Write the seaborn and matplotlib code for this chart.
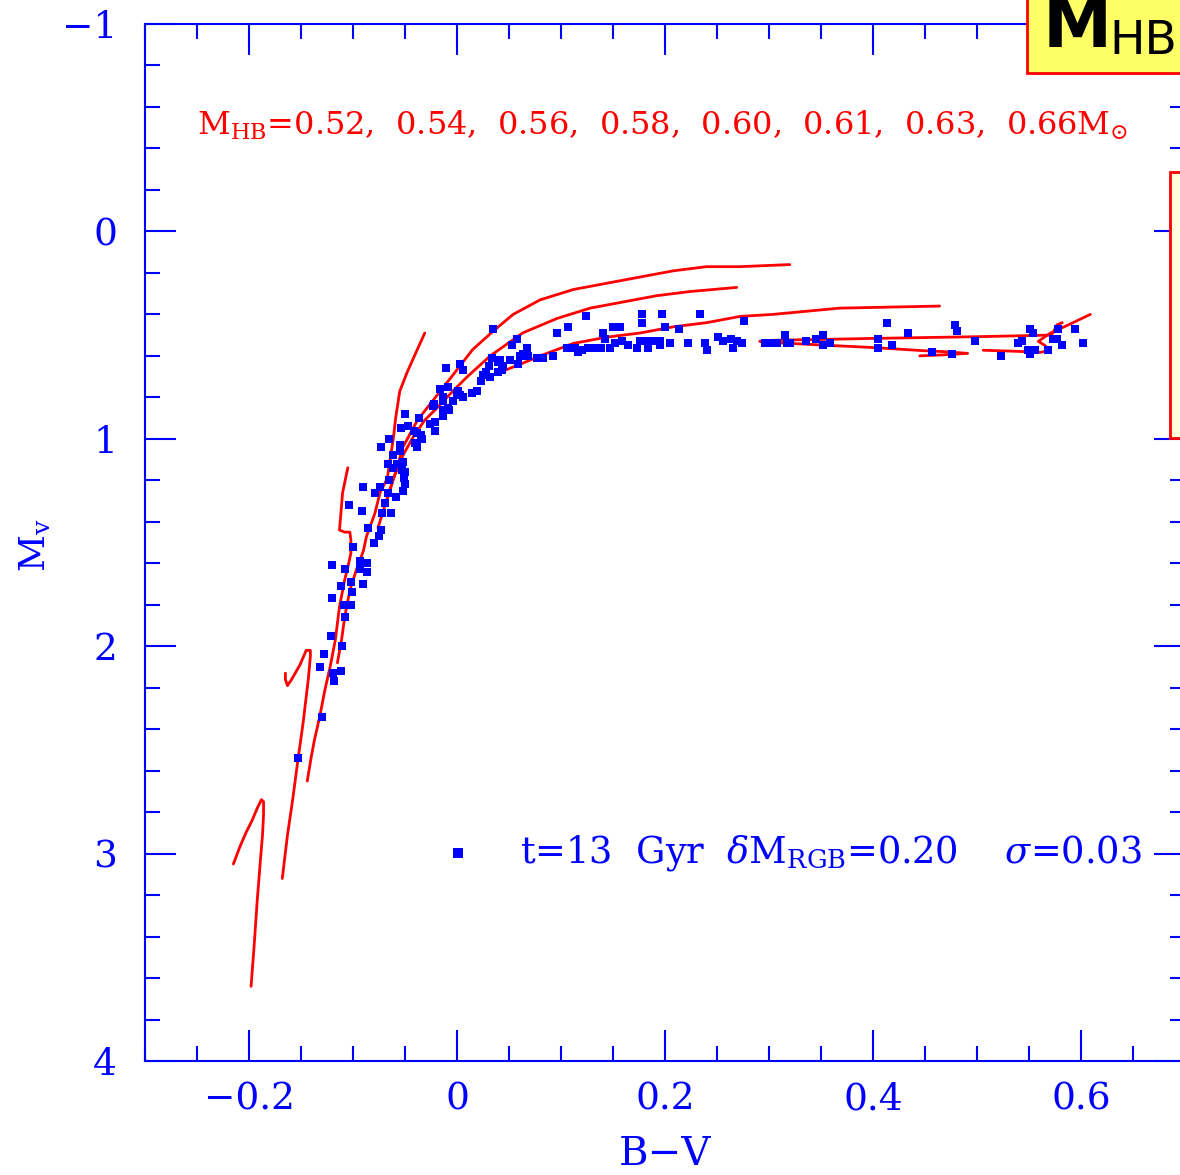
import numpy as np
import pandas as pd
import matplotlib
matplotlib.use("Agg")
import matplotlib.pyplot as plt
import seaborn as sns
from matplotlib.patches import Rectangle
from matplotlib.ticker import MultipleLocator, FixedLocator, FuncFormatter

# ---------------- data ----------------
bv_stars = [-0.153, -0.130, -0.132, -0.128, -0.121, -0.119, -0.118, -0.112, -0.111, -0.108,
            -0.109, -0.102, -0.120, -0.112, -0.101, -0.102, -0.090, -0.108, -0.120, -0.093,
            -0.093, -0.087, -0.087, -0.100, -0.080, -0.075, -0.073, -0.086, -0.063, -0.072,
            -0.069, -0.091, -0.104, -0.059, -0.066, -0.079, -0.074, -0.052, -0.090, -0.065,
            -0.050, -0.051, -0.050, -0.053, -0.062, -0.058, -0.066, -0.052, -0.062, -0.055,
            -0.073, -0.065, -0.055, -0.038, -0.040, -0.034, -0.038, -0.041, -0.047, -0.054,
            -0.037, -0.050, -0.026, -0.021, -0.021, -0.013, -0.023, -0.013, -0.008, -0.013,
            -0.013, -0.009, -0.016, -0.004, 0.001, 0.003, 0.006, 0.014, 0.019, 0.003,
            0.006, -0.011, 0.023, 0.025, 0.028, 0.031, -0.022, -0.009, -0.035, 0.000,
            0.032, 0.035, 0.039,
            0.058, 0.053, 0.067, 0.034, 0.041, 0.044, 0.051, 0.061, 0.063, 0.068,
            0.059, 0.039, 0.043, 0.077, 0.083, 0.092, 0.096, 0.107, 0.124, 0.106,
            0.113, 0.116, 0.120, 0.126, 0.133, 0.138, 0.140, 0.142, 0.147, 0.152,
            0.150, 0.157, 0.159, 0.164, 0.173, 0.176, 0.178, 0.178, 0.181, 0.184,
            0.188, 0.195, 0.195, 0.197, 0.200, 0.205, 0.213, 0.222, 0.234, 0.238,
            0.240, 0.251, 0.256, 0.263, 0.265, 0.269, 0.274, 0.276, 0.296, 0.301,
            0.308, 0.315, 0.317,
            0.320, 0.336, 0.345, 0.352, 0.352, 0.359, 0.413, 0.405, 0.405, 0.418,
            0.434, 0.457, 0.476, 0.479, 0.481, 0.498, 0.523, 0.539, 0.543, 0.551,
            0.554, 0.549, 0.551, 0.556, 0.568, 0.573, 0.577, 0.578, 0.582, 0.594,
            0.602]
mv_stars = [2.54, 2.34, 2.10, 2.04, 1.95, 2.13, 2.17, 2.12, 2.00, 1.86,
            1.80, 1.80, 1.77, 1.71, 1.74, 1.69, 1.70, 1.63, 1.61, 1.63,
            1.59, 1.60, 1.64, 1.52, 1.50, 1.47, 1.44, 1.43, 1.36, 1.36,
            1.31, 1.35, 1.32, 1.28, 1.26, 1.26, 1.23, 1.25, 1.23, 1.20,
            1.22, 1.19, 1.16, 1.15, 1.14, 1.12, 1.12, 1.11, 1.08, 1.06,
            1.04, 1.00, 1.03, 1.04, 1.02, 1.00, 0.97, 0.96, 0.94, 0.95,
            0.90, 0.88, 0.93, 0.96, 0.92, 0.89, 0.84, 0.86, 0.86, 0.82,
            0.80, 0.75, 0.76, 0.82, 0.77, 0.79, 0.80, 0.78, 0.77, 0.64,
            0.67, 0.66, 0.72, 0.69, 0.68, 0.65, 0.83, 0.85, 0.98, 0.78,
            0.70, 0.47, 0.63,
            0.52, 0.55, 0.56, 0.61, 0.62, 0.65, 0.62, 0.60, 0.59, 0.60,
            0.64, 0.68, 0.67, 0.61, 0.61, 0.60, 0.49, 0.46, 0.41, 0.56,
            0.56, 0.58, 0.57, 0.56, 0.56, 0.56, 0.49, 0.52, 0.56, 0.54,
            0.46, 0.46, 0.53, 0.55, 0.56, 0.53, 0.44, 0.40, 0.53, 0.56,
            0.53, 0.53, 0.55, 0.40, 0.46, 0.54, 0.47, 0.54, 0.40, 0.54,
            0.57, 0.51, 0.53, 0.52, 0.56, 0.53, 0.54, 0.43, 0.54, 0.54,
            0.54, 0.50, 0.54,
            0.54, 0.53, 0.52, 0.50, 0.55, 0.54, 0.44, 0.52, 0.56, 0.55,
            0.49, 0.58, 0.59, 0.45, 0.48, 0.53, 0.60, 0.54, 0.53, 0.47,
            0.49, 0.57, 0.59, 0.57, 0.57, 0.52, 0.52, 0.47, 0.55, 0.47,
            0.54]

# HB evolutionary tracks (B-V, Mv)
track1_bv = [-0.198, -0.195, -0.192, -0.189, -0.187, -0.186, -0.186, -0.188, -0.192, -0.197, -0.203, -0.209, -0.215]
track1_mv = [3.64, 3.44, 3.22, 3.03, 2.91, 2.81, 2.75, 2.74, 2.78, 2.84, 2.90, 2.97, 3.05]
track2_bv = [-0.168, -0.163, -0.158, -0.153, -0.148, -0.143, -0.141, -0.141, -0.145, -0.151, -0.159, -0.163, -0.165, -0.165]
track2_mv = [3.12, 2.91, 2.74, 2.55, 2.37, 2.16, 2.05, 2.02, 2.02, 2.09, 2.16, 2.19, 2.16, 2.13]
track3_bv = [-0.144, -0.140, -0.137, -0.132, -0.127, -0.122, -0.117, -0.113, -0.108, -0.105, -0.102, -0.102, -0.103, -0.108, -0.113, -0.112, -0.110, -0.105]
track3_mv = [2.65, 2.53, 2.45, 2.34, 2.21, 2.10, 1.97, 1.81, 1.68, 1.62, 1.55, 1.49, 1.45, 1.45, 1.44, 1.38, 1.26, 1.14]
track4_bv = [-0.115, -0.111, -0.108, -0.103, -0.096, -0.090, -0.087, -0.079, -0.074, -0.067, -0.064, -0.061, -0.059, -0.055, -0.048, -0.040, -0.031]
track4_mv = [2.08, 1.97, 1.86, 1.73, 1.62, 1.54, 1.47, 1.36, 1.26, 1.19, 1.09, 0.99, 0.90, 0.77, 0.68, 0.59, 0.49]
track5_bv = [-0.069, -0.059, -0.052, -0.038, -0.016, -0.002, 0.015, 0.035, 0.054, 0.080, 0.112, 0.144, 0.176, 0.208, 0.240, 0.272, 0.320]
track5_mv = [1.32, 1.16, 1.04, 0.91, 0.77, 0.68, 0.57, 0.48, 0.40, 0.33, 0.28, 0.25, 0.22, 0.19, 0.17, 0.17, 0.16]
track6_bv = [-0.076, -0.068, -0.061, -0.052, -0.042, -0.031, -0.019, -0.004, 0.010, 0.032, 0.063, 0.096, 0.128, 0.160, 0.192, 0.224, 0.269]
track6_mv = [1.43, 1.30, 1.19, 1.08, 0.99, 0.91, 0.85, 0.77, 0.70, 0.60, 0.49, 0.42, 0.37, 0.34, 0.31, 0.29, 0.27]
track7_bv = [0.046, 0.061, 0.080, 0.112, 0.144, 0.176, 0.208, 0.240, 0.272, 0.304, 0.368, 0.464]
track7_mv = [0.67, 0.64, 0.60, 0.54, 0.51, 0.49, 0.46, 0.44, 0.41, 0.40, 0.37, 0.36]
track8_bv = [0.445, 0.469, 0.491, 0.469, 0.448, 0.400, 0.359, 0.320, 0.296, 0.291, 0.304, 0.359, 0.400, 0.448,
             0.496, 0.544, 0.570, 0.573, 0.575, 0.577, 0.582]
track8_mv = [0.60, 0.595, 0.588, 0.580, 0.575, 0.560, 0.550, 0.540, 0.535, 0.530, 0.525, 0.520, 0.516, 0.512,
             0.508, 0.503, 0.500, 0.490, 0.470, 0.450, 0.440]
track9_bv = [0.506, 0.537, 0.561, 0.570, 0.565, 0.559, 0.570, 0.589, 0.609]
track9_mv = [0.573, 0.578, 0.583, 0.573, 0.549, 0.530, 0.492, 0.448, 0.400]

hb_masses_text = r"$\mathregular{M_{HB}}$=0.52,  0.54,  0.56,  0.58,  0.60,  0.61,  0.63,  0.66$\mathregular{M_{\odot}}$"
legend_text = r"t=13  Gyr  $\delta\mathregular{M_{RGB}}$=0.20    $\sigma$=0.03"
x_ticks = [-0.2, 0.0, 0.2, 0.4, 0.6]
y_ticks = [-1, 0, 1, 2, 3, 4]

# ---------------- style ----------------
sns.set_style("ticks")
BLUE = "#0000FF"
RED = "#FF0000"
plt.rcParams["font.family"] = ["DejaVu Serif"]
plt.rcParams["mathtext.fontset"] = "dejavuserif"
plt.rcParams["axes.unicode_minus"] = True

fig = plt.figure(figsize=(11.80, 11.75), dpi=100)
L, R, T, B = 145, 1185, 24, 1061
ax = fig.add_axes([L / 1180, 1 - B / 1175, (R - L) / 1180, (B - T) / 1175])

stars = pd.DataFrame({"bv": bv_stars, "mv": mv_stars})
tracks = []
for i, (bv, mv) in enumerate([(track1_bv, track1_mv), (track2_bv, track2_mv), (track3_bv, track3_mv),
                               (track4_bv, track4_mv), (track5_bv, track5_mv), (track6_bv, track6_mv),
                               (track7_bv, track7_mv), (track8_bv, track8_mv), (track9_bv, track9_mv)]):
    tracks.append(pd.DataFrame({"bv": bv, "mv": mv, "track": i}))
tracks = pd.concat(tracks, ignore_index=True)

sns.lineplot(data=tracks, x="bv", y="mv", units="track", estimator=None, sort=False,
             color=RED, linewidth=2.0, ax=ax, legend=False)
sns.scatterplot(data=stars, x="bv", y="mv", marker="s", color=BLUE, s=26, linewidth=0,
                ax=ax, label=legend_text, zorder=3)

ax.set_xlim(-0.3, 0.7)
ax.set_ylim(4, -1)

for sp in ax.spines.values():
    sp.set_color(BLUE)
    sp.set_linewidth(1.5)

ax.xaxis.set_major_locator(FixedLocator(x_ticks))
ax.xaxis.set_minor_locator(MultipleLocator(0.05))
ax.yaxis.set_major_locator(FixedLocator(y_ticks))
ax.yaxis.set_minor_locator(MultipleLocator(0.2))
ax.xaxis.set_major_formatter(FuncFormatter(lambda v, p: "0" if abs(v) < 1e-9 else f"{v:.1f}".replace("-", "\u2212")))
ax.yaxis.set_major_formatter(FuncFormatter(lambda v, p: f"{int(round(v))}".replace("-", "\u2212")))

ax.tick_params(which="both", direction="in", top=True, right=True, colors=BLUE)
ax.tick_params(which="major", length=22, width=1.5, labelsize=27, labelcolor=BLUE)
ax.tick_params(which="minor", length=10.5, width=1.5)
ax.tick_params(axis="x", which="major", pad=15)
ax.tick_params(axis="y", which="major", pad=20)

ax.set_xlabel("B\u2212V", fontsize=29, color=BLUE)
ax.xaxis.set_label_coords(0.5, -0.072)
ax.set_ylabel(r"$\mathregular{M_v}$", fontsize=26, color=BLUE)
ax.yaxis.set_label_coords(-0.088, 0.497)

ax.text(-0.25, -0.51, hb_masses_text, color=RED, fontsize=23, va="center", ha="left")

leg = ax.legend(loc="center left", bbox_to_anchor=(0.290, 0.2006), frameon=False,
                handlelength=0.6, handletextpad=1.4, borderpad=0, borderaxespad=0,
                markerscale=1.4, prop={"size": 26.5, "family": "DejaVu Serif"})
for t in leg.get_texts():
    t.set_color(BLUE)

# slide decorations partly visible at the right edge
fig.add_artist(Rectangle((1027 / 1180, 1 - 73 / 1175), 0.2, 0.2, transform=fig.transFigure,
                         facecolor="#FFFF66", edgecolor=RED, linewidth=2, zorder=5))
fig.text(1043 / 1180, 1 - 47 / 1175, "M", fontsize=50, fontweight="bold", color="black",
         family=["DejaVu Sans"], zorder=6, va="baseline")
fig.text(1109 / 1180, 1 - 54 / 1175, "HB", fontsize=34, color="black",
         family=["DejaVu Sans"], zorder=6, va="baseline")
fig.add_artist(Rectangle((1170 / 1180, 1 - 438 / 1175), 0.2, (438 - 172) / 1175, transform=fig.transFigure,
                         facecolor="#FFFFDD", edgecolor=RED, linewidth=2, zorder=5))

fig.savefig("out.png", dpi=100)
